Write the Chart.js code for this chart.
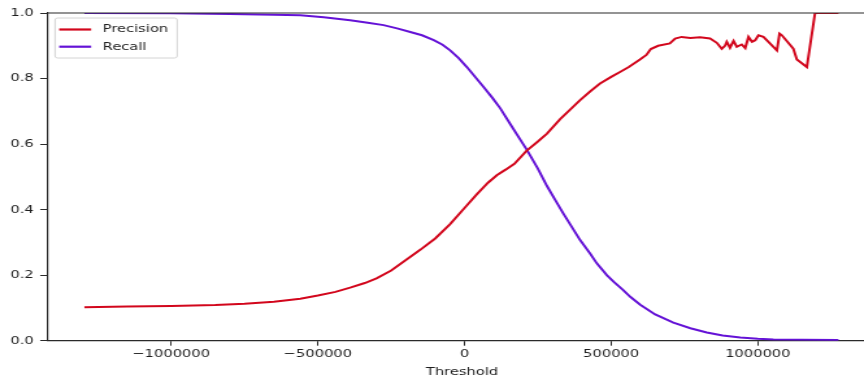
<!DOCTYPE html>
<html>
<head>
<meta charset="utf-8">
<title>Precision / Recall vs Threshold</title>
<script src="https://cdn.jsdelivr.net/npm/chart.js@4.4.0/dist/chart.umd.min.js"></script>
<style>
  html, body { margin: 0; padding: 0; background: #fff; overflow: hidden; }
  /* figure is drawn narrow and stretched sideways, like the saved png */
  #wrap { position: absolute; left: 0; top: 0; width: 680px; height: 380px;
          transform: scaleX(1.2992); transform-origin: 0 0; }
</style>
</head>
<body>
<div id="wrap"><canvas id="pr"></canvas></div>
<script>
// precision curve
const precThresholds = [-1296000, -1150000, -1000000, -850000, -750000, -650000, -560000, -500000,
  -440000, -390000, -340000, -300000, -250000, -200000, -150000, -100000, -50000, 0,
  40000, 80000, 110000, 140000, 170000, 212000, 250000, 281000, 326000, 360000, 394000,
  430000, 462000, 500000, 530000, 560000, 598000, 620000, 635000, 660000, 700000, 718000,
  740000, 770000, 803000, 837000, 860000, 877000, 888000, 894000, 905000, 917000, 928000,
  945000, 957000, 968000, 980000, 991000, 1002000, 1019000, 1065000, 1074000, 1082000,
  1121000, 1133000, 1167000, 1195000, 1275000];
const precisions = [0.102, 0.104, 0.106, 0.109, 0.113, 0.119, 0.128, 0.138,
  0.149, 0.162, 0.176, 0.190, 0.214, 0.246, 0.278, 0.312, 0.355, 0.405,
  0.445, 0.482, 0.505, 0.522, 0.540, 0.580, 0.608, 0.632, 0.676, 0.705, 0.734,
  0.762, 0.785, 0.805, 0.820, 0.835, 0.858, 0.872, 0.890, 0.900, 0.907, 0.922,
  0.927, 0.924, 0.926, 0.922, 0.909, 0.891, 0.900, 0.912, 0.894, 0.915, 0.897,
  0.904, 0.893, 0.927, 0.912, 0.917, 0.932, 0.927, 0.886, 0.937, 0.932,
  0.891, 0.858, 0.835, 1.0, 1.0];

// recall curve
const recThresholds = [-1296000, -1000000, -800000, -650000, -560000, -480000, -390000, -330000,
  -276000, -230000, -185000, -145000, -105000, -75000, -49000, -20000, 8000, 35000,
  65000, 95000, 122000, 160000, 212000, 250000, 281000, 310000, 337000, 365000, 394000,
  428000, 451000, 485000, 508000, 540000, 565000, 599000, 650000, 712000, 770000, 826000,
  880000, 940000, 1000000, 1053000, 1150000, 1275000];
const recalls = [1.0, 0.999, 0.997, 0.995, 0.993, 0.987, 0.978, 0.970,
  0.963, 0.953, 0.942, 0.932, 0.917, 0.903, 0.886, 0.862, 0.835, 0.806,
  0.774, 0.741, 0.709, 0.655, 0.583, 0.525, 0.472, 0.428, 0.388, 0.348, 0.307,
  0.266, 0.236, 0.200, 0.180, 0.155, 0.134, 0.110, 0.080, 0.055, 0.038, 0.025,
  0.016, 0.010, 0.006, 0.004, 0.003, 0.002];

const xTicks = [-1000000, -500000, 0, 500000, 1000000];
const yTicks = [0, 0.2, 0.4, 0.6, 0.8, 1.0];

const toPoints = (xs, ys) => xs.map((x, i) => ({x: x, y: ys[i]}));

Chart.defaults.font.family = 'DejaVu Sans';
Chart.defaults.font.size = 11.3;
Chart.defaults.color = '#1e1e1e';

// top/right spines plus a matplotlib-like legend box in the upper left
const frameAndLegend = {
  id: 'frameAndLegend',
  afterDraw(chart) {
    const ctx = chart.ctx, a = chart.chartArea;
    ctx.save();
    ctx.strokeStyle = '#2a2a2a';
    ctx.lineWidth = 1.2;
    ctx.beginPath();
    ctx.moveTo(a.left, a.top);
    ctx.lineTo(a.right, a.top);
    ctx.lineTo(a.right, a.bottom);
    ctx.stroke();

    const bx = a.left + 5.4, by = a.top + 5, bw = 94, bh = 40;
    ctx.fillStyle = 'rgba(255,255,255,0.8)';
    ctx.strokeStyle = '#d4d4d4';
    ctx.lineWidth = 1;
    ctx.beginPath();
    ctx.roundRect(bx, by, bw, bh, 2);
    ctx.fill();
    ctx.stroke();

    ctx.font = '11.3px "DejaVu Sans"';
    ctx.textBaseline = 'middle';
    chart.data.datasets.forEach((ds, i) => {
      const y = by + 11.5 + i * 17.2;
      ctx.strokeStyle = ds.borderColor;
      ctx.lineWidth = 2.2;
      ctx.beginPath();
      ctx.moveTo(bx + 3.2, y);
      ctx.lineTo(bx + 27.8, y);
      ctx.stroke();
      ctx.fillStyle = '#1e1e1e';
      ctx.fillText(ds.label, bx + 36.7, y);
    });
    ctx.restore();
  }
};

new Chart(document.getElementById('pr'), {
  type: 'line',
  data: {
    datasets: [
      {
        label: 'Precision',
        data: toPoints(precThresholds, precisions),
        borderColor: '#d2061c',
        borderWidth: 2,
        pointRadius: 0,
        tension: 0,
        fill: false
      },
      {
        label: 'Recall',
        data: toPoints(recThresholds, recalls),
        borderColor: '#6412d6',
        borderWidth: 2,
        pointRadius: 0,
        tension: 0,
        fill: false
      }
    ]
  },
  options: {
    responsive: true,
    maintainAspectRatio: false,
    animation: false,
    layout: { padding: { top: 13, right: 5.7, bottom: 0, left: 0 } },
    plugins: {
      legend: { display: false },
      tooltip: { enabled: false }
    },
    scales: {
      x: {
        type: 'linear',
        min: -1420000,
        max: 1403000,
        afterBuildTicks: (scale) => { scale.ticks = xTicks.map(v => ({value: v})); },
        afterFit: (scale) => { scale.height = 39.3; },
        ticks: {
          padding: 2,
          maxRotation: 0,
          callback: (v) => (v < 0 ? '\u2212' + Math.abs(v) : String(v))
        },
        grid: { drawOnChartArea: false, tickLength: 5, tickColor: '#2a2a2a', tickWidth: 1 },
        border: { display: true, color: '#2a2a2a', width: 1.2 },
        title: { display: true, text: 'Threshold', color: '#1e1e1e', padding: { top: 0, bottom: 1 } }
      },
      y: {
        min: 0,
        max: 1,
        afterBuildTicks: (scale) => { scale.ticks = yTicks.map(v => ({value: v})); },
        afterFit: (scale) => { scale.width = 36.95; },
        ticks: {
          padding: 5,
          callback: (v) => v.toFixed(1)
        },
        grid: { drawOnChartArea: false, tickLength: 6, tickColor: '#2a2a2a', tickWidth: 1 },
        border: { display: true, color: '#2a2a2a', width: 1.2 }
      }
    }
  },
  plugins: [frameAndLegend]
});
</script>
</body>
</html>
